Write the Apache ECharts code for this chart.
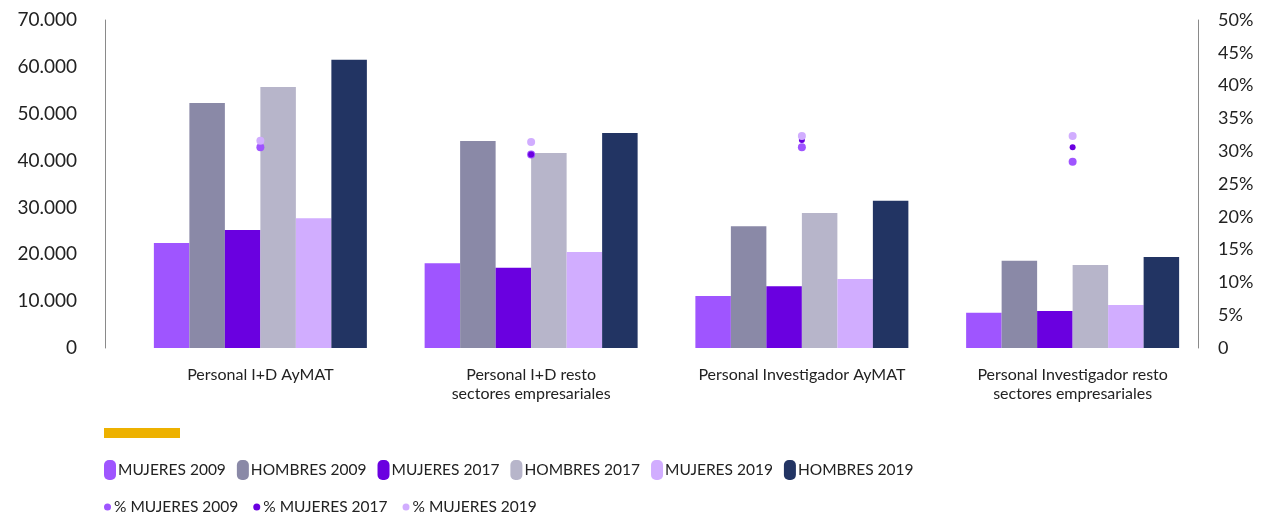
<!DOCTYPE html>
<html>
<head>
<meta charset="utf-8">
<script src="https://cdn.jsdelivr.net/npm/echarts@6/dist/echarts.min.js"></script>
<style>
  html, body { margin: 0; padding: 0; background: #fff; }
  #chart { width: 1263px; height: 519px; }
</style>
</head>
<body>
<div id="chart"></div>
<script>
  const categories = [
    'Personal I+D AyMAT',
    'Personal I+D resto\nsectores empresariales',
    'Personal Investigador AyMAT',
    'Personal Investigador resto\nsectores empresariales'
  ]
  const mujeres2009 = [22400, 18100, 11100, 7500]
  const hombres2009 = [52300, 44200, 26000, 18600]
  const mujeres2017 = [25200, 17100, 13200, 7900]
  const hombres2017 = [55700, 41600, 28800, 17700]
  const mujeres2019 = [27700, 20500, 14700, 9200]
  const hombres2019 = [61500, 45900, 31400, 19400]
  // % de mujeres (eje derecho)
  const pctMujeres2009 = [30.6, 29.5, 30.6, 28.4]
  const pctMujeres2017 = [31.5, 29.5, 31.7, 30.6]
  const pctMujeres2019 = [31.6, 31.4, 32.3, 32.3]

  const font = 'Lato'
  const textColor = '#222'
  const pill = 'path://M5,0 h2 a5,5 0 0 1 5,5 v10 a5,5 0 0 1 -5,5 h-2 a5,5 0 0 1 -5,-5 v-10 a5,5 0 0 1 5,-5z'

  function bar(name, data, color) {
    return { name: name, type: 'bar', data: data, barWidth: 35.5, barGap: '0%',
      itemStyle: { color: color }, yAxisIndex: 0 }
  }
  function dot(name, data, color, size) {
    return { name: name, type: 'scatter', data: data, yAxisIndex: 1,
      symbolSize: size, itemStyle: { color: color, opacity: 1 }, z: 5 }
  }

  let myChart = echarts.init(document.getElementById('chart'))
  let option = {
    animation: false,
    textStyle: { fontFamily: font, color: textColor },
    grid: { left: 125, right: 55, top: 20, bottom: 171 },
    graphic: [
      { type: 'rect', left: 104, top: 428, shape: { width: 76, height: 10 },
        style: { fill: '#EDB100' } }
    ],
    legend: [
      {
        left: 99, top: 455, itemWidth: 12, itemHeight: 20, itemGap: 11,
        icon: pill,
        textStyle: { fontFamily: font, fontSize: 15.5, color: textColor, padding: [0, 0, 0, -3] },
        data: ['MUJERES 2009', 'HOMBRES 2009', 'MUJERES 2017', 'HOMBRES 2017', 'MUJERES 2019', 'HOMBRES 2019']
      },
      {
        left: 99, top: 494, itemWidth: 7, itemHeight: 7, itemGap: 15,
        icon: 'circle',
        textStyle: { fontFamily: font, fontSize: 15.5, color: textColor, padding: [0, 0, 0, -2] },
        data: ['% MUJERES 2009', '% MUJERES 2017', '% MUJERES 2019']
      }
    ],
    xAxis: {
      type: 'category',
      data: categories,
      axisLine: { show: false },
      axisTick: { show: false },
      axisLabel: { fontFamily: font, fontSize: 16, color: textColor, margin: 17, lineHeight: 19, interval: 0 }
    },
    yAxis: [
      {
        type: 'value', min: 0, max: 70000, interval: 10000, offset: 20,
        splitLine: { show: false },
        axisLine: { show: true, lineStyle: { color: '#8a8a8a', width: 1 } },
        axisTick: { show: false },
        axisLabel: {
          fontFamily: font, fontSize: 19, color: textColor, margin: 28,
          formatter: v => v.toString().replace(/\B(?=(\d{3})+(?!\d))/g, '.')
        }
      },
      {
        type: 'value', min: 0, max: 50, interval: 5, position: 'right', offset: -10,
        splitLine: { show: false },
        axisLine: { show: true, lineStyle: { color: '#8a8a8a', width: 1 } },
        axisTick: { show: false },
        axisLabel: {
          fontFamily: font, fontSize: 18, color: textColor, margin: 20,
          formatter: v => v === 0 ? '0' : v + '%'
        }
      }
    ],
    series: [
      bar('MUJERES 2009', mujeres2009, '#9F55FF'),
      bar('HOMBRES 2009', hombres2009, '#8A89A7'),
      bar('MUJERES 2017', mujeres2017, '#6A00E0'),
      bar('HOMBRES 2017', hombres2017, '#B7B5CA'),
      bar('MUJERES 2019', mujeres2019, '#D1ADFF'),
      bar('HOMBRES 2019', hombres2019, '#223463'),
      dot('% MUJERES 2009', pctMujeres2009, '#9F55FF', 8),
      dot('% MUJERES 2017', pctMujeres2017, '#6A00E0', 6),
      dot('% MUJERES 2019', pctMujeres2019, '#D1ADFF', 8)
    ]
  }

  myChart.setOption(option)
  window.addEventListener('resize', myChart.resize)
</script>
</body>
</html>
